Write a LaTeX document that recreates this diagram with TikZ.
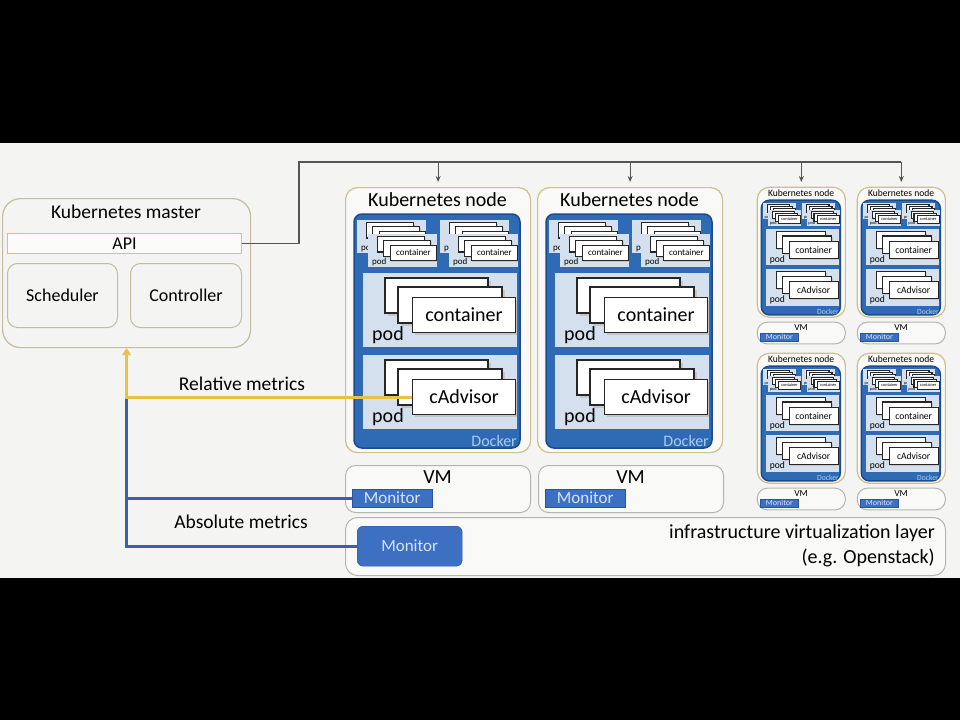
\documentclass[tikz,border=0pt]{standalone}
\usepackage{fontspec}
\setmainfont{Carlito}
\usetikzlibrary{arrows.meta}
\definecolor{bg}{HTML}{F4F4F2}
\definecolor{tanb}{HTML}{C4BBA0}
\definecolor{nodeb}{HTML}{CDBF8E}
\definecolor{vmb}{HTML}{B4B4B0}
\definecolor{dock}{HTML}{2E6BB4}
\definecolor{dockd}{HTML}{1C4A8A}
\definecolor{band}{HTML}{D4E0EE}
\definecolor{dtext}{HTML}{A9CBF2}
\definecolor{mon}{HTML}{3E70C2}
\definecolor{mond}{HTML}{2A54A0}
\definecolor{mont}{HTML}{D5E4FF}
\definecolor{yel}{HTML}{E6C24A}
\definecolor{blu}{HTML}{3D5FA9}
\definecolor{apib}{HTML}{E2B98C}
\definecolor{busc}{HTML}{555555}
\tikzset{
  fs/.style={font=\fontsize{#1}{#1}\selectfont},
  stackrect/.style={draw=black!85, fill=white, line width=1.1},
  shade/.style={fill=gray!45},
  busl/.style={draw=busc, line width=1.1},
  yell/.style={draw=yel, line width=3},
  bluel/.style={draw=blu, line width=3},
  pics/podband/.style={code={
    \fill[band] (0,0) rectangle (154,74);
    \fill[shade] (25,8) rectangle (128,43);
    \draw[stackrect] (22,5) rectangle (125,40);
    \fill[shade] (38,17) rectangle (142,53);
    \draw[stackrect] (35,14) rectangle (139,50);
    \fill[shade] (52,27) rectangle (154,62);
    \node[stackrect, minimum width=103, minimum height=35, anchor=north west, inner sep=0, fs=20] (-front) at (49,24) {#1};
    \node[fs=20, inner sep=0] (-pod) at (25,62) {pod};
  }},
  pics/knode/.style={code={
    \node[draw=nodeb, line width=1.2, rounded corners=12, fill=white!45!bg, minimum width=185, minimum height=265, anchor=north west, inner sep=0] (-box) at (0,0) {};
    \node[fs=20, inner sep=0] (-title) at (92.5,13) {Kubernetes node};
    \draw[draw=dockd, fill=dock, line width=1.5, rounded corners=8] (9,27) rectangle (175,261);
    \pic[scale=0.45, transform shape] (-ma1) at (12,33) {podband=container};
    \pic[scale=0.45, transform shape] (-ma2) at (23,47) {podband=container};
    \pic[scale=0.45, transform shape] (-mb1) at (95,33) {podband=container};
    \pic[scale=0.45, transform shape] (-mb2) at (104,47) {podband=container};
    \pic (-pc) at (18,86) {podband=container};
    \pic (-pa) at (18,168) {podband=cAdvisor};
    \node[fs=16, text=dtext, anchor=east, inner sep=0] (-docker) at (172,254) {Docker};
  }},
  pics/vmbox/.style={code={
    \node[draw=vmb, line width=1, rounded corners=10, fill=white!45!bg, minimum width=185, minimum height=47, anchor=north west, inner sep=0] (-box) at (0,0) {};
    \node[fs=20, inner sep=0] (-vm) at (92.5,12) {VM};
    \node[draw=mond, fill=mon, minimum width=80, minimum height=18, anchor=north west, inner sep=0, text=mont, fs=17] (-mon) at (7,24) {Monitor};
  }},
}
\begin{document}
\begin{tikzpicture}[x=1pt,y=-1pt]
\fill[black] (0,0) rectangle (960,720);
\fill[bg] (0,143) rectangle (960,578);
\useasboundingbox (0,0) rectangle (960,720);
% master
\node[draw=tanb, line width=1.2, rounded corners=18, minimum width=248, minimum height=149, anchor=north west, inner sep=0] (master) at (2,198) {};
\node[fs=19.5, inner sep=0] (mtitle) at (126,212) {Kubernetes master};
\node[draw=apib, fill=white!60!bg, line width=1, minimum width=234, minimum height=20, anchor=north west, inner sep=0, fs=18] (api) at (7,233) {API};
\node[draw=tanb, line width=1, rounded corners=10, minimum width=110, minimum height=64, anchor=north west, inner sep=0, fs=18] (sched) at (7,263) {Scheduler};
\node[draw=tanb, line width=1, rounded corners=10, minimum width=111, minimum height=64, anchor=north west, inner sep=0, fs=18] (ctrl) at (130,263) {Controller};
% kubernetes nodes
\pic (n1) at (345,187) {knode};
\pic (n2) at (537,187) {knode};
\pic[xscale=0.476, yscale=0.49, transform shape] (s1) at (757,187) {knode};
\pic[xscale=0.476, yscale=0.49, transform shape] (s2) at (857,187) {knode};
\pic[xscale=0.476, yscale=0.49, transform shape] (s3) at (757,353) {knode};
\pic[xscale=0.476, yscale=0.49, transform shape] (s4) at (857,353) {knode};
% VMs
\pic (v1) at (345,465) {vmbox};
\pic (v2) at (538,465) {vmbox};
\pic[xscale=0.476, yscale=0.46, transform shape] (sv1) at (757,322) {vmbox};
\pic[xscale=0.476, yscale=0.46, transform shape] (sv2) at (857,322) {vmbox};
\pic[xscale=0.476, yscale=0.46, transform shape] (sv3) at (757,488) {vmbox};
\pic[xscale=0.476, yscale=0.46, transform shape] (sv4) at (857,488) {vmbox};
% infrastructure
\node[draw=vmb, line width=1, rounded corners=12, fill=white!45!bg, minimum width=600, minimum height=58, anchor=north west, inner sep=0] (infra) at (345,517) {};
\node[draw=mond, fill=mon, rounded corners=6, minimum width=105, minimum height=40, anchor=north west, inner sep=0, text=mont, fs=17] (imon) at (357,526) {Monitor};
\node[fs=20, anchor=east, inner sep=0] (itext1) at (935,533) {infrastructure virtualization layer};
\node[fs=20, anchor=east, inner sep=0] (itext2) at (935,558) {(e.g. Openstack)};
% bus
\coordinate (busL) at (299,162);
\draw[busl] (api.east) -- (api.east -| busL) -- (busL) -- (busL -| s2-box.north);
\foreach \n in {n1,n2,s1,s2}
  \draw[busl, -{Stealth[length=6,width=5]}, shorten >=5] (busL -| \n-box.north) -- (\n-box.north);
% metrics
\draw[bluel] (imon.west) -- (imon.west -| master.south) -- (n1-pa-front.west -| master.south);
\draw[bluel] (v1-mon.west) -- (v1-mon.west -| master.south);
\draw[yell, -{Triangle[length=7,width=9]}] (n1-pa-front.west) -| (master.south);
\node[fs=19.5, inner sep=0] (rel) at (242,384) {Relative metrics};
\node[fs=19.5, inner sep=0] (abs) at (241,522) {Absolute metrics};
\end{tikzpicture}
\end{document}
